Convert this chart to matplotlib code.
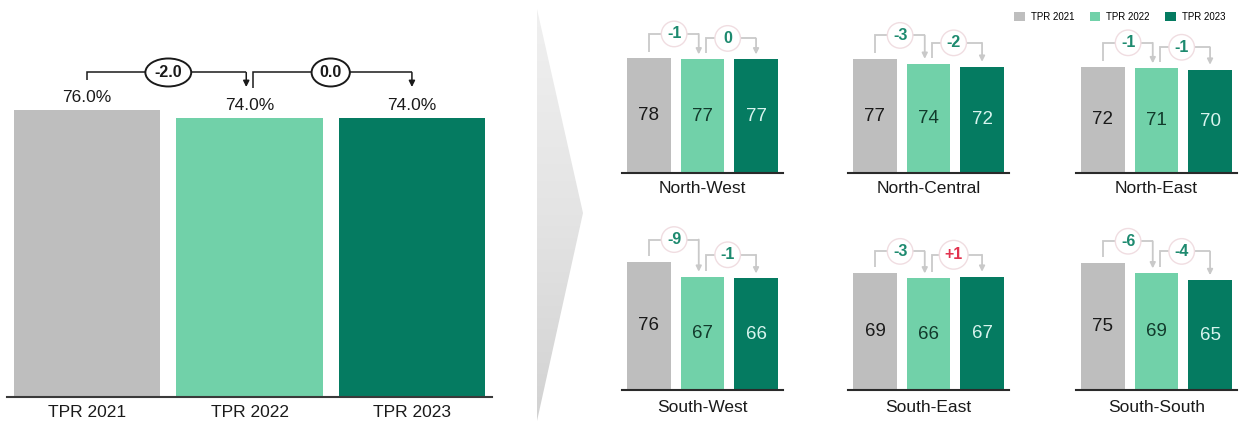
import numpy as np
import matplotlib.pyplot as plt
from matplotlib.patches import Polygon, Patch
from matplotlib.colors import LinearSegmentedColormap

plt.rcParams['font.family'] = ['Liberation Sans', 'DejaVu Sans']

# national values
years = ['TPR 2021', 'TPR 2022', 'TPR 2023']
national = [76.0, 74.0, 74.0]

# zonal values
regions = ['North-West', 'North-Central', 'North-East',
           'South-West', 'South-East', 'South-South']
tpr_2021 = [78, 77, 72, 76, 69, 75]
tpr_2022 = [77, 74, 71, 67, 66, 69]
tpr_2023 = [77, 72, 70, 66, 67, 65]

colors = ['#bebebe', '#71d1a9', '#057b61']
text_cols = ['#1a1a1a', '#123a2c', '#d8f4ee']
teal = '#1d8a6f'
red = '#e2334f'

W, H = 1239, 421
fig = plt.figure(figsize=(W / 100, H / 100), dpi=100)


def px_axes(left, top, width, height, **kw):
    # axes placed in pixel coordinates measured from the top-left corner
    return fig.add_axes([left / W, 1 - (top + height) / H, width / W, height / H], **kw)


def bracket(ax, x0, x1, y0, level, y1, color, lw, ms):
    ax.plot([x0, x0, x1], [y0, level, level], color=color, lw=lw,
            solid_joinstyle='miter', solid_capstyle='butt', zorder=3)
    ax.annotate('', xy=(x1, y1), xytext=(x1, level),
                arrowprops=dict(arrowstyle='-|>', color=color, lw=lw,
                                shrinkA=0, shrinkB=0, mutation_scale=ms),
                zorder=3)


def fmt_delta(d, decimals=0):
    if decimals:
        s = f'{d:.{decimals}f}'
        return s if d <= 0 else '+' + s
    return f'{d:+d}' if d != 0 else '0'


# ---- background chevron with gradient
bg = fig.add_axes([0, 0, 1, 1], zorder=-5)
bg.set_xlim(0, W)
bg.set_ylim(H, 0)
bg.axis('off')
chev = Polygon([(537, 9), (583, 213), (537, 421)], closed=True,
               fc='none', ec='none')
bg.add_patch(chev)
grad = np.linspace(0, 1, 256).reshape(-1, 1)
cmap = LinearSegmentedColormap.from_list('g', ['#f0f0f0', '#e4e4e4', '#d2d2d2'])
img = bg.imshow(grad, extent=(537, 583, 421, 9), cmap=cmap, aspect='auto', zorder=0)
img.set_clip_path(chev)

# ---- main (national) chart
ax = px_axes(7, 20, 485, 377)
ppu = 3.77
x = np.arange(len(years))
ax.bar(x, national, width=0.9, color=colors, zorder=2)
ax.set_xlim(-0.493, 2.493)
ax.set_ylim(0, 100)
for s in ['top', 'right', 'left']:
    ax.spines[s].set_visible(False)
ax.spines['bottom'].set_color('#3a3a3a')
ax.spines['bottom'].set_linewidth(1.5)
ax.set_yticks([])
ax.set_xticks(x)
ax.set_xticklabels(years, fontsize=12.5, color='#1a1a1a')
ax.tick_params(axis='x', length=0, pad=6)
for xi, v in zip(x, national):
    ax.text(xi, v + 13 / ppu, f'{v:.1f}%', ha='center', va='center',
            fontsize=12.5, color='#1a1a1a')

level = max(national) + 38 / ppu
for i in range(len(national) - 1):
    x0 = x[i] + (0.02 if i > 0 else 0)
    x1 = x[i + 1] - (0.02 if i == 0 else 0)
    y0 = national[i] + 30 / ppu
    y1 = national[i + 1] + 31 / ppu
    bracket(ax, x0, x1, y0, level, y1, '#1a1a1a', 1.1, 9)
    d = national[i + 1] - national[i]
    ax.text((x[i] + x[i + 1]) / 2, level, fmt_delta(d, 1), ha='center', va='center',
            fontsize=11.5, fontweight='bold', color='#1a1a1a', zorder=4,
            bbox=dict(boxstyle='ellipse,pad=0.15', fc='white', ec='#1a1a1a', lw=1.4))

# ---- zonal panels
col_left = [622, 848, 1076]
row_bottom = [173, 390]
row_ymax = [105, 95]
row_ppu = [1.475, 1.69]

for k, name in enumerate(regions):
    r, c = divmod(k, 3)
    p = row_ppu[r]
    h = row_ymax[r] * p
    pax = px_axes(col_left[c], row_bottom[r] - h, 161, h)
    vals = [tpr_2021[k], tpr_2022[k], tpr_2023[k]]
    xs = np.arange(3)
    pax.bar(xs, vals, width=0.82, color=colors, zorder=2)
    pax.set_xlim(-0.503, 2.503)
    pax.set_ylim(0, row_ymax[r])
    for s in ['top', 'right', 'left']:
        pax.spines[s].set_visible(False)
    pax.spines['bottom'].set_color('#2a2a2a')
    pax.spines['bottom'].set_linewidth(1.5)
    pax.set_xticks([])
    pax.set_yticks([])
    pax.set_facecolor('none')
    pax.annotate(name, xy=(0.5, 0), xycoords='axes fraction',
                 xytext=(0, -15 if r == 0 else -17), textcoords='offset pixels',
                 ha='center', va='center', fontsize=12.5, color='#1a1a1a')
    for xi, v in zip(xs, vals):
        pax.text(xi, v / 2, f'{v}', ha='center', va='center',
                 fontsize=13.5, color=text_cols[xi])
    offs = [24, 21] if r == 0 else [22, 22]
    for i in range(2):
        lvl = max(vals[i], vals[i + 1]) + offs[i] / p
        x0 = xs[i] + (0.07 if i > 0 else 0)
        x1 = xs[i + 1] - (0.07 if i == 0 else 0)
        bracket(pax, x0, x1, vals[i] + 6 / p, lvl, vals[i + 1] + 5 / p,
                '#c9c9c9', 1.3, 8)
        d = vals[i + 1] - vals[i]
        pax.text((xs[i] + xs[i + 1]) / 2 - 0.03, lvl, fmt_delta(d), ha='center',
                 va='center', fontsize=11.5, fontweight='bold',
                 color=red if d > 0 else teal, zorder=4,
                 bbox=dict(boxstyle='circle,pad=0.33', fc='white', ec='#f0dde1', lw=1.0))

# ---- legend
handles = [Patch(fc=col, ec='none', label=lab) for col, lab in zip(colors, years)]
fig.legend(handles=handles, loc='upper right', bbox_to_anchor=(1234 / W, 1 - 3 / H),
           ncol=3, frameon=False, fontsize=7, handlelength=1.1, handleheight=1.1,
           handletextpad=0.6, columnspacing=1.6)

fig.savefig('out.png', dpi=100)
